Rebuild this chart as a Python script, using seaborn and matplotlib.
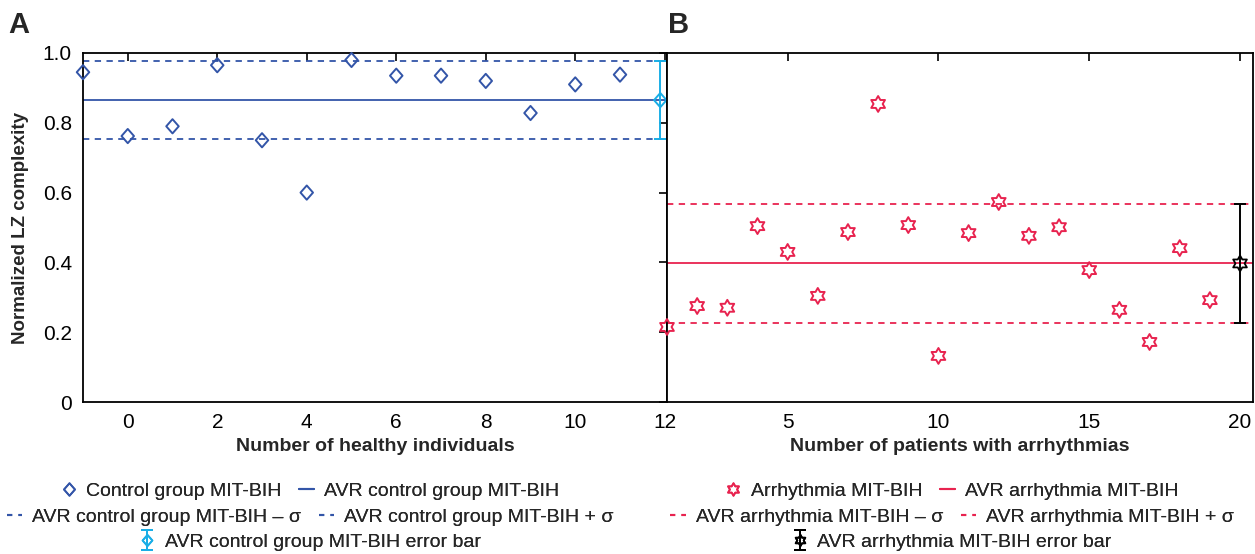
import numpy as np
import pandas as pd
import matplotlib
matplotlib.use("Agg")
import matplotlib.pyplot as plt
import seaborn as sns
from matplotlib.lines import Line2D
from matplotlib.path import Path

# values
control_x = [-1, 0, 1, 2, 3, 4, 5, 6, 7, 8, 9, 10, 11]
control_lz = [0.945, 0.762, 0.790, 0.965, 0.750, 0.600, 0.980,
              0.935, 0.935, 0.920, 0.828, 0.910, 0.938]
control_avr = 0.865
control_sigma = 0.111
control_err_x = 11.9

arr_x = list(range(1, 20))
arr_lz = [0.215, 0.275, 0.270, 0.504, 0.430, 0.304, 0.487, 0.854, 0.507, 0.132,
          0.484, 0.573, 0.476, 0.501, 0.378, 0.264, 0.172, 0.441, 0.292]
arr_avr = 0.397
arr_sigma = 0.170
arr_err_x = 20

y_ticks = [0, 0.2, 0.4, 0.6, 0.8, 1.0]
y_ticklabels = ["0", "0.2", "0.4", "0.6", "0.8", "1.0"]

BLUE = "#3355a8"
CYAN = "#1aaee6"
RED = "#e8234f"

# hexagram outline (12 vertex star) and a diamond, as closed paths
ang = np.deg2rad(90 + 30 * np.arange(12))
rad = np.where(np.arange(12) % 2 == 0, 1.0, 1 / np.sqrt(3))
hex_verts = list(zip(rad * np.cos(ang), rad * np.sin(ang)))
hexagram = Path(hex_verts + [hex_verts[0]], closed=True)
dia_verts = [(0, 1), (0.88, 0), (0, -1), (-0.88, 0)]
diamond = Path(dia_verts + [dia_verts[0]], closed=True)

sns.set_style("white")
plt.rcParams["font.family"] = ["Liberation Sans", "DejaVu Sans"]

fig = plt.figure(figsize=(12.55, 5.54), dpi=100)
ax1 = fig.add_axes([83 / 1255, 1 - 402 / 554, (667 - 83) / 1255, 349 / 554])
ax2 = fig.add_axes([667 / 1255, 1 - 402 / 554, (1253 - 667) / 1255, 349 / 554])

# ---- panel A
df_c = pd.DataFrame({"x": control_x, "lz": control_lz})
sns.scatterplot(data=df_c, x="x", y="lz", marker=diamond, s=105, ax=ax1, clip_on=False, zorder=4)
pc = ax1.collections[-1]
pc.set_facecolor("none")
pc.set_edgecolor(BLUE)
pc.set_linewidth(1.4)

ax1.axhline(control_avr, color=BLUE, lw=1.3)
ax1.axhline(control_avr - control_sigma, color=BLUE, lw=1.3, ls=(0, (3.5, 3)))
ax1.axhline(control_avr + control_sigma, color=BLUE, lw=1.3, ls=(0, (3.5, 3)))
eb1 = ax1.errorbar([control_err_x], [control_avr], yerr=[control_sigma], fmt="none",
                   ecolor=CYAN, elinewidth=1.4, capsize=4, capthick=1.4, clip_on=False, zorder=5)
ax1.scatter([control_err_x], [control_avr], marker=diamond, s=105, facecolors="none",
            edgecolors=CYAN, linewidths=1.4, zorder=6, clip_on=False)

ax1.set_xlim(-1, 12.05)
ax1.set_xticks([0, 2, 4, 6, 8, 10, 12])
ax1.set_xlabel("Number of healthy individuals", fontsize=14, fontweight="bold", labelpad=4)
ax1.set_ylabel("Normalized LZ complexity", fontsize=13.5, fontweight="bold", labelpad=10)

# ---- panel B
df_a = pd.DataFrame({"x": arr_x, "lz": arr_lz})
sns.scatterplot(data=df_a, x="x", y="lz", marker=hexagram, s=130, ax=ax2, clip_on=False, zorder=4)
pc = ax2.collections[-1]
pc.set_facecolor("none")
pc.set_edgecolor(RED)
pc.set_linewidth(1.4)

ax2.axhline(arr_avr, color=RED, lw=1.3)
ax2.axhline(arr_avr - arr_sigma, color=RED, lw=1.3, ls=(0, (3.5, 3)))
ax2.axhline(arr_avr + arr_sigma, color=RED, lw=1.3, ls=(0, (3.5, 3)))
eb2 = ax2.errorbar([arr_err_x], [arr_avr], yerr=[arr_sigma], fmt="none",
                   ecolor="black", elinewidth=1.4, capsize=4, capthick=1.4, zorder=5)
ax2.scatter([arr_err_x], [arr_avr], marker=hexagram, s=130, facecolors="none",
            edgecolors="black", linewidths=1.3, zorder=6)

ax2.set_xlim(1, 20.43)
ax2.set_xticks([5, 10, 15, 20])
ax2.set_xlabel("Number of patients with arrhythmias", fontsize=14, fontweight="bold", labelpad=4)
ax2.set_ylabel("")

for ax in (ax1, ax2):
    ax.set_ylim(0, 1.0)
    ax.set_yticks(y_ticks)
    for sp in ax.spines.values():
        sp.set_visible(True)
        sp.set_color("black")
        sp.set_linewidth(1.3)
    ax.tick_params(direction="in", length=6, width=1.2, top=True, labelsize=15,
                   pad=8, colors="black")
ax1.set_yticklabels(y_ticklabels)
ax1.tick_params(right=True)
ax2.tick_params(labelleft=False, left=False, right=False)

fig.text(8 / 1255, 1 - 25 / 554, "A", fontsize=21, fontweight="bold", va="center")
fig.text(668 / 1255, 1 - 25 / 554, "B", fontsize=21, fontweight="bold", va="center")


# ---- legends (three rows under each panel)
def pts(mk, c, ms):
    return Line2D([], [], ls="none", marker=mk, ms=ms, mfc="none", mec=c, mew=1.3)


def solid(c):
    return Line2D([], [], color=c, lw=1.5)


def dashed(c):
    return Line2D([], [], color=c, lw=1.5, ls=(0, (2.5, 3)))


leg_kw = dict(loc="center", frameon=False, fontsize=14, handlelength=0.8,
              handletextpad=0.5, columnspacing=0.9, borderpad=0)

rows_y = [1 - 491 / 554, 1 - 517 / 554, 1 - 542 / 554]
sig = "\u03c3"
groups = [
    (310 / 1255, BLUE, diamond, "Control group MIT-BIH", "AVR control group MIT-BIH",
     (eb1, pts(diamond, CYAN, 8)), "AVR control group MIT-BIH error bar"),
    (952 / 1255, RED, hexagram, "Arrhythmia MIT-BIH", "AVR arrhythmia MIT-BIH",
     (eb2, pts(hexagram, "black", 8)), "AVR arrhythmia MIT-BIH error bar"),
]
for cx, col, mk, lab_pts, lab_avr, ebh, lab_eb in groups:
    l1 = fig.legend([pts(mk, col, 9), solid(col)], [lab_pts, lab_avr], ncol=2,
                    bbox_to_anchor=(cx, rows_y[0]), **leg_kw)
    fig.add_artist(l1)
    l2 = fig.legend([dashed(col), dashed(col)],
                    [lab_avr + " \u2013 " + sig, lab_avr + " + " + sig], ncol=2,
                    bbox_to_anchor=(cx, rows_y[1]), **leg_kw)
    fig.add_artist(l2)
    l3 = fig.legend([ebh], [lab_eb], bbox_to_anchor=(cx, rows_y[2]), **leg_kw)
    fig.add_artist(l3)

fig.savefig("out.png", dpi=100)
